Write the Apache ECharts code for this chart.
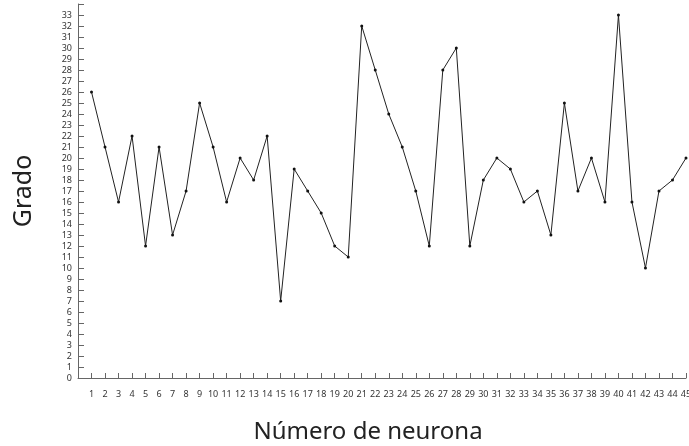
<!DOCTYPE html>
<html>
<head>
<meta charset="utf-8">
<script src="https://cdn.jsdelivr.net/npm/echarts@6/dist/echarts.min.js"></script>
<style>
  html, body { margin: 0; padding: 0; background: #fff; }
  #chart { width: 689px; height: 446px; }
</style>
</head>
<body>
<div id="chart"></div>
<script>
// neuron number (x) and degree (y)
const neurons = [1, 2, 3, 4, 5, 6, 7, 8, 9, 10, 11, 12, 13, 14, 15, 16, 17, 18, 19, 20, 21, 22, 23,
    24, 25, 26, 27, 28, 29, 30, 31, 32, 33, 34, 35, 36, 37, 38, 39, 40, 41, 42, 43, 44, 45]
const degree = [26, 21, 16, 22, 12, 21, 13, 17, 25, 21, 16, 20, 18, 22, 7, 19, 17, 15, 12, 11, 32, 28, 24,
    21, 17, 12, 28, 30, 12, 18, 20, 19, 16, 17, 13, 25, 17, 20, 16, 33, 16, 10, 17, 18, 20]
const yTop = 33

const chart = echarts.init(document.getElementById('chart'))
const axisColor = '#666'
const labelColor = '#333'

chart.setOption({
    animation: false,
    textStyle: { fontFamily: 'Noto Sans' },
    grid: { left: 78, right: 3, top: 4, bottom: 68, containLabel: false, outerBoundsMode: 'none' },
    xAxis: {
        type: 'value',
        min: 0,
        max: 45,
        interval: 1,
        name: 'Número de neurona',
        nameLocation: 'middle',
        nameGap: 42,
        nameTextStyle: { fontSize: 24, color: '#222', fontFamily: 'Noto Sans', padding: [0, 28, 0, 0] },
        axisLine: { lineStyle: { color: axisColor, width: 1 } },
        axisTick: { inside: true, length: 5, lineStyle: { color: axisColor } },
        splitLine: { show: false },
        axisLabel: {
            color: labelColor,
            fontSize: 9,
            margin: 12,
            formatter: v => (v === 0 ? '' : String(v))
        }
    },
    yAxis: {
        type: 'value',
        min: 0,
        max: 34,
        interval: 1,
        name: 'Grado',
        nameLocation: 'middle',
        nameGap: 42,
        nameRotate: 90,
        nameTextStyle: { fontSize: 25, color: '#222', fontFamily: 'Noto Sans' },
        axisLine: { show: true, lineStyle: { color: axisColor, width: 1 } },
        axisTick: { show: true, inside: true, length: 6, lineStyle: { color: axisColor } },
        splitLine: { show: false },
        axisLabel: {
            color: labelColor,
            fontSize: 9,
            margin: 6,
            formatter: v => (v > yTop ? '' : String(v))
        }
    },
    series: [
        {
            type: 'line',
            data: neurons.map((n, i) => [n, degree[i]]),
            symbol: 'circle',
            symbolSize: 3,
            lineStyle: { color: '#222', width: 1 },
            itemStyle: { color: '#111' }
        }
    ]
})
</script>
</body>
</html>
